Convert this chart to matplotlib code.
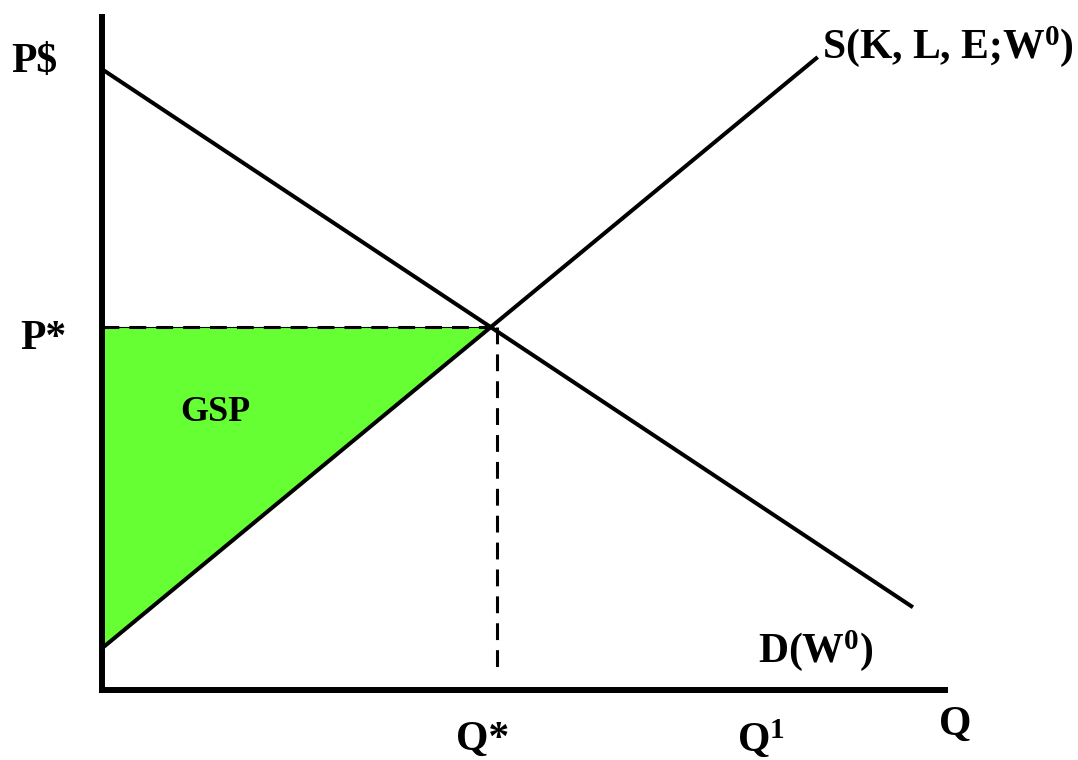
import matplotlib
matplotlib.use("Agg")
import matplotlib.pyplot as plt

plt.rcParams['font.family'] = ['Liberation Serif', 'DejaVu Serif']
plt.rcParams['font.weight'] = 'bold'
plt.rcParams['mathtext.fontset'] = 'custom'
plt.rcParams['mathtext.rm'] = 'Liberation Serif:bold'
plt.rcParams['mathtext.it'] = 'Liberation Serif:bold'
plt.rcParams['mathtext.bf'] = 'Liberation Serif:bold'

# demand and supply lines (Q, P)
demand_q = [0.0, 9.62]
demand_p = [9.23, 1.23]
supply_q = [0.0, 8.49]
supply_p = [0.62, 9.41]

# equilibrium
q_star = 4.60
p_star = 5.39
q_star_mark = 4.69   # where the vertical dashed line sits
q_one = 7.82

green = '#66ff33'

fig = plt.figure(figsize=(10.78, 7.6), dpi=100)
ax = fig.add_axes([0.0946, 0.0921, 0.782, 0.885])
ax.set_xlim(0, 10)
ax.set_ylim(0, 10)
for side in ['top', 'right']:
    ax.spines[side].set_visible(False)
for side in ['left', 'bottom']:
    ax.spines[side].set_linewidth(4.3)
ax.set_xticks([])
ax.set_yticks([])

# GSP triangle under P* and above supply
ax.fill([0, q_star, 0], [p_star, p_star, supply_p[0]], color=green, lw=0, zorder=1)
ax.plot([0, q_star], [p_star, p_star], color='black', lw=0.8, zorder=2)

ax.plot(demand_q, demand_p, color='black', lw=2.9, solid_capstyle='butt', zorder=3)
ax.plot(supply_q, supply_p, color='black', lw=2.9, solid_capstyle='butt', zorder=3)

ax.plot([0, q_star], [p_star, p_star], color='black', lw=2.2, dashes=(5.5, 3.3), zorder=3)
ax.plot([q_star_mark, q_star_mark], [p_star, 0.3], color='black', lw=2.2,
        dashes=(5.5, 3.3), zorder=3)

fs = 30
ax.text(-0.8, 9.33, 'P$', fontsize=fs, ha='center', va='center', clip_on=False)
ax.text(-0.7, 5.22, 'P*', fontsize=fs, ha='center', va='center', clip_on=False)
ax.text(4.52, -0.74, 'Q*', fontsize=fs, ha='center', va='center', clip_on=False)
ax.text(q_one, -0.74, 'Q$^1$', fontsize=fs, ha='center', va='center', clip_on=False)
ax.text(10.12, -0.52, 'Q', fontsize=fs, ha='center', va='center', clip_on=False)
ax.text(7.78, 0.59, 'D(W$^0$)', fontsize=fs, ha='left', va='center', clip_on=False)
ax.text(8.54, 9.56, 'S(K, L, E;W$^0$)', fontsize=fs, ha='left', va='center', clip_on=False)
ax.text(1.35, 4.12, 'GSP', fontsize=26, ha='center', va='center')

fig.savefig('out.png', dpi=100)
